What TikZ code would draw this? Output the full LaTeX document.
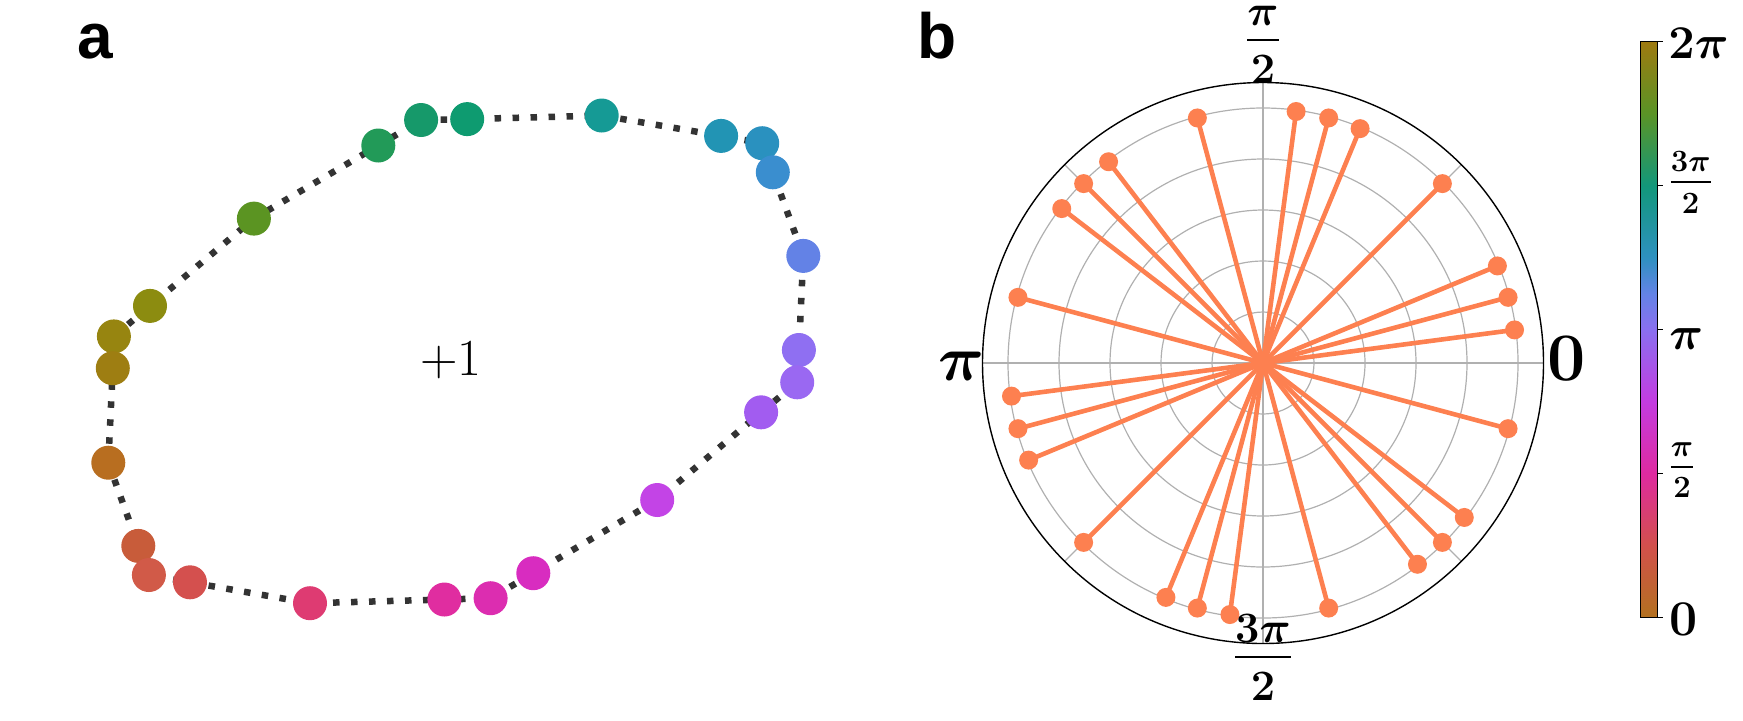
\RequirePackage{fix-cm}
\documentclass[tikz,border=0pt]{standalone}
\usepackage{amsmath}
\usepackage[no-math]{fontspec}
\newfontfamily\labelfont{Liberation Sans}
% panel a dot colours (loop order)
\definecolor{L1}{HTML}{B86E20}
\definecolor{L2}{HTML}{C85C3A}
\definecolor{L3}{HTML}{D15A48}
\definecolor{L4}{HTML}{D4504E}
\definecolor{L5}{HTML}{DE3B72}
\definecolor{L6}{HTML}{E02DA0}
\definecolor{L7}{HTML}{DC2DB0}
\definecolor{L8}{HTML}{D82CC0}
\definecolor{L9}{HTML}{C344E6}
\definecolor{L10}{HTML}{A25CF0}
\definecolor{L11}{HTML}{9A68F2}
\definecolor{L12}{HTML}{8F6FF2}
\definecolor{L13}{HTML}{6382E6}
\definecolor{L14}{HTML}{3A8ECF}
\definecolor{L15}{HTML}{2A91BF}
\definecolor{L16}{HTML}{2294B4}
\definecolor{L17}{HTML}{159A95}
\definecolor{L18}{HTML}{0E9B70}
\definecolor{L19}{HTML}{16996A}
\definecolor{L20}{HTML}{229A58}
\definecolor{L21}{HTML}{5B9422}
\definecolor{L22}{HTML}{8C8C10}
\definecolor{L23}{HTML}{978510}
\definecolor{L24}{HTML}{9E7E12}
% colour bar stops
\definecolor{cb0}{HTML}{B3711F}
\definecolor{cb1}{HTML}{D2504C}
\definecolor{cb2}{HTML}{DE2AA0}
\definecolor{cb3}{HTML}{C33CE0}
\definecolor{cb4}{HTML}{8A6FF0}
\definecolor{cb45}{HTML}{6383E6}
\definecolor{cb5}{HTML}{2E91C0}
\definecolor{cb6}{HTML}{12977A}
\definecolor{cb7}{HTML}{5A9426}
\definecolor{cb8}{HTML}{9E7A10}
\definecolor{coralc}{HTML}{FD8050}
\definecolor{gridc}{HTML}{B0B0B0}
\pgfdeclareverticalshading{phasebar}{100bp}{color(0bp)=(cb0); color(25bp)=(cb0); color(31.25bp)=(cb1); color(37.5bp)=(cb2); color(43.75bp)=(cb3); color(50bp)=(cb4); color(53.125bp)=(cb45); color(56.25bp)=(cb5); color(62.5bp)=(cb6); color(68.75bp)=(cb7); color(75bp)=(cb8); color(100bp)=(cb8)}
\newcommand{\bigzero}{\fontsize{34}{38}\selectfont\boldmath}
\newcommand{\bigpi}{\fontsize{32}{36}\selectfont\boldmath}
\newcommand{\midfrac}{\fontsize{21.7}{26}\selectfont\boldmath}
\newcommand{\barbig}{\fontsize{23.5}{28}\selectfont\boldmath}
\newcommand{\barzero}{\fontsize{25}{30}\selectfont\boldmath}
\newcommand{\barfrac}{\fontsize{15.5}{19}\selectfont\boldmath}
\newcommand{\pluslab}{\fontsize{26}{30}\selectfont}
\newcommand{\panelfont}{\labelfont\bfseries\fontsize{32}{36}\selectfont}
% fraction with a lowered numerator: #1 rule thickness, #2 numerator, #3 denominator
\newcommand{\tightfrac}[3]{\genfrac{}{}{#1}{0}{\raisebox{-0.155em}{$#2$}}{#3}}
\tikzset{
  loopline/.style={draw=black!80, line width=3.25pt, dash pattern=on 3.25pt off 5.75pt},
  phdot/.style={circle, inner sep=0pt, minimum size=17pt, draw=none},
  ray/.style={draw=coralc, line width=2.3pt},
  pdot/.style={circle, fill=coralc, inner sep=0pt, minimum size=9.5pt, draw=none},
  gridline/.style={draw=gridc, line width=0.6pt},
  panellabel/.style={inner sep=0pt, font=\panelfont},
  ticklab/.style={inner sep=0pt},
}
\begin{document}
\begin{tikzpicture}[x=0.5pt, y=-0.5pt]
\useasboundingbox (0,0) rectangle (1743,720);
% ---------------- panel a ----------------
\node[panellabel, anchor=base west] (la) at (77,58) {a};
\coordinate (p1) at (108.3,462.7);
\coordinate (p2) at (138.3,545.9);
\coordinate (p3) at (148.9,575);
\coordinate (p4) at (190,582.3);
\coordinate (p5) at (310,603.2);
\coordinate (p6) at (444.4,599.5);
\coordinate (p7) at (490.6,598.2);
\coordinate (p8) at (533.3,573.2);
\coordinate (p9) at (657.2,500);
\coordinate (p10) at (761.1,412.3);
\coordinate (p11) at (797.2,382.3);
\coordinate (p12) at (798.9,350);
\coordinate (p13) at (803.3,255.9);
\coordinate (p14) at (772.8,172.3);
\coordinate (p15) at (762.2,143.2);
\coordinate (p16) at (721.1,135.9);
\coordinate (p17) at (601.7,115.5);
\coordinate (p18) at (467.2,119.1);
\coordinate (p19) at (421.1,120);
\coordinate (p20) at (378.3,145.5);
\coordinate (p21) at (253.9,218.6);
\coordinate (p22) at (150,305.9);
\coordinate (p23) at (113.9,336.4);
\coordinate (p24) at (112.8,368.2);
\draw[loopline] (p1) -- (p2) -- (p3) -- (p4) -- (p5) -- (p6) -- (p7) -- (p8)
  -- (p9) -- (p10) -- (p11) -- (p12) -- (p13) -- (p14) -- (p15) -- (p16)
  -- (p17) -- (p18) -- (p19) -- (p20) -- (p21) -- (p22) -- (p23) -- (p24) -- cycle;
\foreach \i in {1,2,3,4,5,6,7,8,9,10,12,11,13,15,14,16,17,18,19,20,21,22,23,24}{
  \node[phdot, fill=L\i] (d\i) at (p\i) {};
}
\node[inner sep=0pt, anchor=base, font=\pluslab] (plus) at (451,375) {$+1$};
% ---------------- panel b ----------------
\node[panellabel, anchor=base west] (lb) at (917,58) {b};
\coordinate (c) at (1263,363);
\begin{scope}[shift={(1263,363)}, y=0.5pt]
  \foreach \r in {51,102,153,204,255}{ \draw[gridline] (0,0) circle (\r); }
  \foreach \t in {0,45,...,315}{ \draw[gridline] (0,0) -- (\t:280.5); }
  \draw[black, line width=0.7pt] (0,0) circle (280.5);
  \foreach \a [count=\i] in {105,82.5,75,67.5,45,22.5,15,7.5,-15,-37.5,-45,-52.5,-75,-97.5,-105,-112.5,-135,-157.5,-165,-172.5,165,142.5,135,127.5}{
    \coordinate (q\i) at (\a:253.7);
  }
\end{scope}
\foreach \i in {1,...,24}{ \draw[ray] (c) -- (q\i); }
\foreach \i in {1,...,24}{ \node[pdot] (e\i) at (q\i) {}; }
\node[ticklab, anchor=base west, font=\bigzero] (lzero) at (1547,380) {$0$};
\node[ticklab, anchor=base east, font=\bigpi] (lpi) at (985,380) {$\pi$};
\node[ticklab, anchor=south, font=\midfrac] (lhalf) at (1263,84) {$\tightfrac{1.25pt}{\pi}{2}$};
\node[ticklab, anchor=north, font=\midfrac] (lthree) at (1263,614) {$\tightfrac{1.25pt}{3\pi}{2}$};
% ---------------- colour bar ----------------
\shade[shading=phasebar] (1640,41.7) rectangle (1657,617.3);
\draw[black, line width=0.5pt] (1640,41.7) rectangle (1657,617.3);
\foreach \y in {41.7,185.6,329.5,473.4,617.3}{ \draw[black, line width=0.5pt] (1657,\y) -- (1663,\y); }
\node[ticklab, anchor=west, font=\barbig] (ctwopi) at (1668,43) {$2\pi$};
\node[ticklab, anchor=west, font=\barfrac] (cthree) at (1668,182.5) {$\tightfrac{0.9pt}{3\pi}{2}$};
\node[ticklab, anchor=base west, font=\barbig] (cpi) at (1669,349) {$\pi$};
\node[ticklab, anchor=west, font=\barfrac] (chalf) at (1668,470) {$\tightfrac{0.9pt}{\pi}{2}$};
\node[ticklab, anchor=west, font=\barzero] (czero) at (1669,619) {$0$};
\end{tikzpicture}
\end{document}
